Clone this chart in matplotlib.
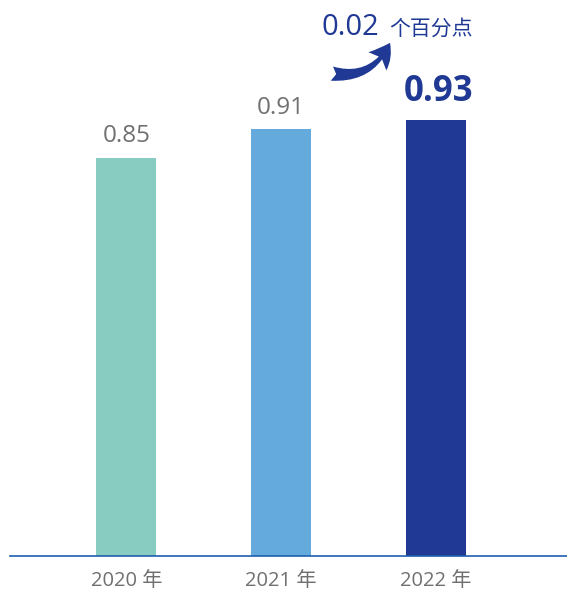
import matplotlib
matplotlib.use("Agg")
import matplotlib.pyplot as plt
from matplotlib.patches import FancyArrowPatch

plt.rcParams['font.family'] = ['Open Sans', 'Noto Sans CJK SC', 'DejaVu Sans']

years = ['2020 年', '2021 年', '2022 年']
values = [0.85, 0.91, 0.93]
labels = ['0.85', '0.91', '0.93']
colors = ['#88cbc0', '#65aadc', '#1f3994']
change = '0.02'
change_unit = '个百分点'

fig = plt.figure(figsize=(5.67, 5.92), dpi=100)
ax = fig.add_axes([10 / 567, 36 / 592, 557 / 567, 556 / 592])

x = range(len(values))
ax.bar(x, values, width=0.39, color=colors, zorder=2)

for i, (v, lab) in enumerate(zip(values, labels)):
    if i == len(values) - 1:
        ax.annotate(lab, (i, v), xytext=(2, 7), textcoords='offset points',
                    ha='center', va='bottom', fontsize=25, fontweight='bold',
                    color='#1f3994')
    else:
        ax.annotate(lab, (i, v), xytext=(0, 7), textcoords='offset points',
                    ha='center', va='bottom', fontsize=17.5, color='#707070')

ax.set_xlim(-0.75, 2.845)
ax.set_ylim(0, 1.186)

# change note with curved arrow
ax.text(1.26, 1.111, change, fontsize=21, color='#1f3994', ha='left', va='baseline')
ax.text(1.70, 1.111, change_unit, fontsize=15, color='#1f3994', ha='left', va='baseline')
arr = FancyArrowPatch((1.31, 1.03), (1.71, 1.10),
                      connectionstyle='arc3,rad=0.4',
                      arrowstyle='fancy,head_length=7,head_width=8,tail_width=4.5',
                      color='#1f3994', lw=0, mutation_scale=2.3)
ax.add_patch(arr)

for s in ['top', 'right', 'left']:
    ax.spines[s].set_visible(False)
ax.spines['bottom'].set_color('#1f5faf')
ax.spines['bottom'].set_linewidth(1.2)
ax.set_yticks([])
ax.set_xticks(list(x))
ax.set_xticklabels(years, fontsize=14.5, color='#707070')
ax.tick_params(axis='x', length=0, pad=11)

fig.savefig('out.png', dpi=100)
